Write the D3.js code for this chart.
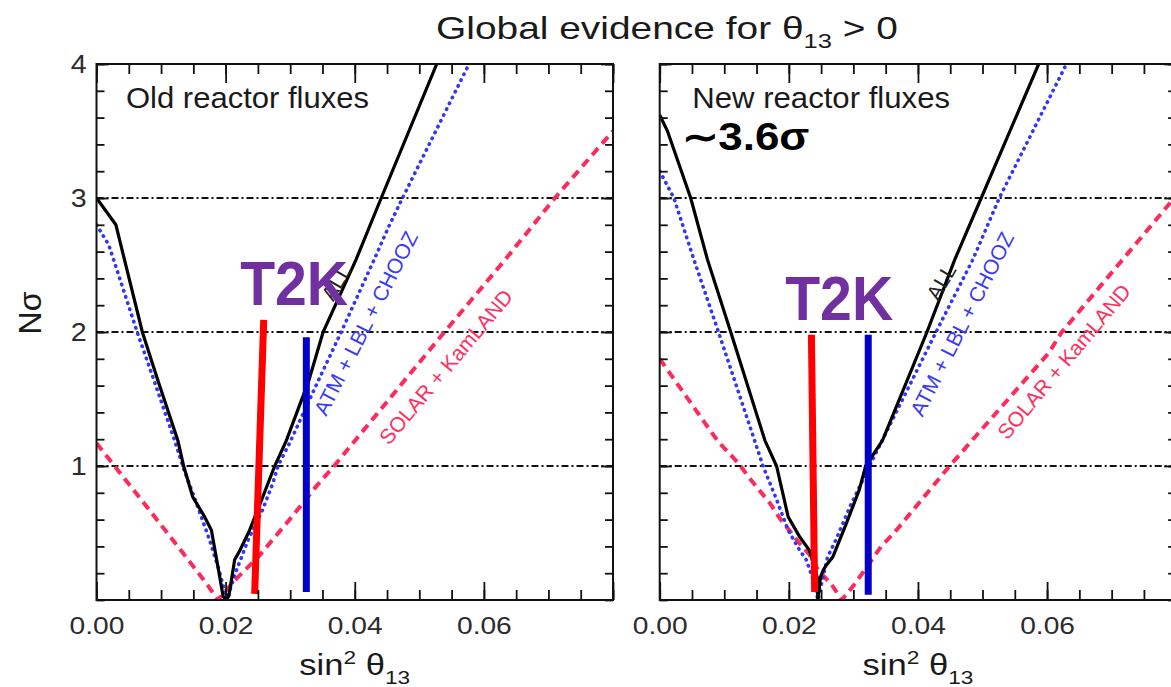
<!DOCTYPE html>
<html lang="en">
<head>
<meta charset="UTF-8">
<title>Global evidence for theta13 &gt; 0</title>
<script src="https://cdnjs.cloudflare.com/ajax/libs/d3/7.8.5/d3.min.js"></script>
<style>
  body { margin: 0; background: #fff; }
  svg { display: block; font-family: "Liberation Sans", Arial, sans-serif; }
</style>
</head>
<body>
<div id="chart"></div>
<script>
// values: x = sin^2 theta13, y = N sigma
var xTicks = [0, 0.02, 0.04, 0.06];
var yTicks = [1, 2, 3, 4];
var sigmaLines = [1, 2, 3];

// old reactor fluxes
var oldAllX = [0, 0.0030, 0.0071, 0.0095, 0.0126, 0.0135, 0.0149, 0.0167, 0.0178, 0.0188, 0.0196, 0.0200, 0.0205, 0.0214, 0.0222, 0.0237, 0.0252, 0.0276, 0.0294, 0.0329, 0.0351, 0.0402, 0.0441, 0.0527];
var oldAllY = [3.00, 2.80, 2.00, 1.64, 1.19, 1.00, 0.77, 0.625, 0.52, 0.25, 0.03, 0.00, 0.03, 0.30, 0.37, 0.52, 0.70, 1.00, 1.19, 1.64, 2.00, 2.54, 3.00, 4.00];
var oldAtmX = [0, 0.0019, 0.0042, 0.0063, 0.0089, 0.0121, 0.0135, 0.0155, 0.0175, 0.0190, 0.0202, 0.0215, 0.0235, 0.0257, 0.0273, 0.0281, 0.0299, 0.0340, 0.0379, 0.0430, 0.0453, 0.0474, 0.0577];
var oldAtmY = [2.80, 2.65, 2.31, 2.00, 1.64, 1.19, 0.98, 0.72, 0.45, 0.22, 0.00, 0.20, 0.45, 0.67, 0.87, 1.00, 1.17, 1.60, 2.00, 2.54, 2.79, 3.00, 4.00];
var oldSolX = [0, 0.0088, 0.0134, 0.0170, 0.0188, 0.0215, 0.0252, 0.0299, 0.0340, 0.0368, 0.0539, 0.0633, 0.0710, 0.0800];
var oldSolY = [1.17, 0.634, 0.35, 0.125, 0.00, 0.15, 0.33, 0.60, 0.846, 1.00, 2.00, 2.54, 3.00, 3.50];

// new reactor fluxes
var newAllX = [0, 0.0012, 0.0048, 0.0074, 0.0110, 0.0163, 0.0181, 0.0199, 0.0217, 0.0232, 0.0244, 0.0245, 0.0249, 0.0253, 0.0258, 0.0268, 0.0289, 0.0309, 0.0319, 0.0345, 0.0414, 0.0457, 0.0498, 0.0587];
var newAllY = [3.62, 3.50, 3.00, 2.54, 2.00, 1.19, 1.00, 0.62, 0.47, 0.37, 0.17, 0.00, 0.17, 0.22, 0.26, 0.32, 0.57, 0.82, 1.00, 1.19, 2.00, 2.54, 3.00, 4.00];
var newAtmX = [0, 0.0022, 0.0053, 0.0091, 0.0147, 0.0160, 0.0181, 0.0199, 0.0217, 0.0227, 0.0240, 0.0245, 0.0252, 0.0260, 0.0273, 0.0295, 0.0325, 0.0428, 0.0485, 0.0526, 0.0630];
var newAtmY = [3.20, 3.00, 2.54, 2.00, 1.19, 1.00, 0.75, 0.52, 0.37, 0.30, 0.12, 0.00, 0.15, 0.32, 0.45, 0.70, 1.00, 2.00, 2.54, 3.00, 4.00];
var newSolX = [0, 0.0076, 0.0091, 0.0122, 0.0139, 0.0171, 0.0186, 0.0217, 0.0232, 0.0247, 0.0265, 0.0282, 0.0299, 0.0314, 0.0343, 0.0363, 0.0449, 0.0602, 0.0623, 0.0797];
var newSolY = [1.80, 1.28, 1.18, 1.02, 0.91, 0.72, 0.61, 0.42, 0.34, 0.21, 0.125, 0.00, 0.10, 0.20, 0.40, 0.50, 1.00, 1.84, 2.00, 3.00];

// T2K bars drawn on top: [top point, bottom point]
var t2kOldRed = [[0.0259, 2.09], [0.0245, 0.045]];
var t2kOldBlue = [[0.0325, 1.96], [0.0325, 0.06]];
var t2kNewRed = [[0.0235, 1.98], [0.0240, 0.06]];
var t2kNewBlue = [[0.0323, 1.98], [0.0323, 0.04]];

var W = 1171, H = 687;
var panelW = 516.5, plotTop = 64, plotBottom = 600;

var svg = d3.select("#chart").append("svg")
    .attr("width", W)
    .attr("height", H);

// squeeze/stretch a horizontal text to the width it has in the picture
function fitText(sel, x0, y0, width) {
    var bb = sel.node().getBBox();
    sel.attr("transform", "translate(" + x0 + "," + y0 + ") scale(" + (width / bb.width) + ",1)");
    return sel;
}

var panels = [
    { id: "old", left: 96.5, title: "Old reactor fluxes", titleW: 243,
      all: [oldAllX, oldAllY], atm: [oldAtmX, oldAtmY], sol: [oldSolX, oldSolY],
      red: t2kOldRed, blue: t2kOldBlue, yLabels: true,
      allPos: [0.0371, 2.37], atmPos: [0.0417, 2.067], solPos: [0.0541, 1.74], t2kPos: [0.02225, 2.20] },
    { id: "new", left: 659.7, title: "New reactor fluxes", titleW: 258,
      all: [newAllX, newAllY], atm: [newAtmX, newAtmY], sol: [newSolX, newSolY],
      red: t2kNewRed, blue: t2kNewBlue, yLabels: false,
      allPos: [0.0436, 2.375], atmPos: [0.0468, 2.06], solPos: [0.0626, 1.78], t2kPos: [0.01944, 2.09] }
];

panels.forEach(function(p) {
    var x = d3.scaleLinear().domain([0, 0.08]).range([p.left, p.left + panelW]);
    var y = d3.scaleLinear().domain([0, 4]).range([plotBottom, plotTop]);
    var g = svg.append("g");

    g.append("clipPath").attr("id", "clip-" + p.id)
        .append("rect")
        .attr("x", p.left).attr("y", plotTop)
        .attr("width", panelW).attr("height", plotBottom - plotTop);

    // dash-dot sigma levels
    g.selectAll(".lvl").data(sigmaLines).enter().append("line")
        .attr("x1", p.left).attr("x2", p.left + panelW)
        .attr("y1", function(d) { return y(d); })
        .attr("y2", function(d) { return y(d); })
        .attr("stroke", "#111").attr("stroke-width", 1.8)
        .attr("stroke-dasharray", "7,3,2,3");

    var line = d3.line()
        .x(function(d) { return x(d[0]); })
        .y(function(d) { return y(d[1]); });

    var curves = g.append("g").attr("clip-path", "url(#clip-" + p.id + ")");
    curves.append("path")
        .attr("d", line(d3.zip(p.sol[0], p.sol[1])))
        .attr("fill", "none").attr("stroke", "#ff2a5c")
        .attr("stroke-width", 4).attr("stroke-dasharray", "9,6");
    curves.append("path")
        .attr("d", line(d3.zip(p.atm[0], p.atm[1])))
        .attr("fill", "none").attr("stroke", "#3535f5")
        .attr("stroke-width", 3.6).attr("stroke-linecap", "round")
        .attr("stroke-dasharray", "0.5,6");
    curves.append("path")
        .attr("d", line(d3.zip(p.all[0], p.all[1])))
        .attr("fill", "none").attr("stroke", "#000")
        .attr("stroke-width", 3.2);

    // rotated curve labels
    function rotLabel(txt, pos, angle, color) {
        g.append("text")
            .attr("transform", "translate(" + x(pos[0]) + "," + y(pos[1]) + ") rotate(" + angle + ")")
            .attr("text-anchor", "middle")
            .attr("dominant-baseline", "central")
            .style("font-size", "21px")
            .attr("fill", color)
            .text(txt);
    }
    rotLabel("ALL", p.allPos, -60, "#222");
    rotLabel("ATM + LBL + CHOOZ", p.atmPos, -63, "#3a3af5");
    rotLabel("SOLAR + KamLAND", p.solPos, -50, "#ff3060");

    // T2K bars
    [[p.red, "#ff0000"], [p.blue, "#0000c8"]].forEach(function(b) {
        g.append("line")
            .attr("x1", x(b[0][0][0])).attr("y1", y(b[0][0][1]))
            .attr("x2", x(b[0][1][0])).attr("y2", y(b[0][1][1]))
            .attr("stroke", b[1]).attr("stroke-width", 7);
    });

    var t2k = g.append("text")
        .style("font-size", "63px").style("font-weight", "bold")
        .attr("fill", "#7030a0")
        .text("T2K");
    fitText(t2k, x(p.t2kPos[0]), y(p.t2kPos[1]), 108);

    // axes, ticks point inwards
    var minorX = d3.range(0, 0.0801, 0.005);
    var majorX = [0, 0.02, 0.04, 0.06, 0.08];
    var minorY = d3.range(0, 4.01, 0.2);

    function addAxis(axis, tf) {
        return g.append("g").attr("transform", tf).call(axis)
            .call(function(s) { s.select(".domain").remove(); });
    }
    addAxis(d3.axisBottom(x).tickValues(minorX).tickSize(-10).tickFormat(""), "translate(0," + plotBottom + ")");
    addAxis(d3.axisTop(x).tickValues(minorX).tickSize(-10).tickFormat(""), "translate(0," + plotTop + ")");
    addAxis(d3.axisTop(x).tickValues(majorX).tickSize(-19).tickFormat(""), "translate(0," + plotTop + ")");
    var xb = addAxis(d3.axisBottom(x).tickValues(majorX).tickSize(-18).tickPadding(17)
        .tickFormat(function(d) { return xTicks.indexOf(d) >= 0 ? d3.format(".2f")(d) : ""; }),
        "translate(0," + plotBottom + ")");
    xb.selectAll("text").style("font-size", "24.5px").attr("fill", "#2b2b2b")
        .attr("transform", "scale(1.15,1)");

    addAxis(d3.axisLeft(y).tickValues(minorY).tickSize(-8).tickFormat(""), "translate(" + p.left + ",0)");
    addAxis(d3.axisRight(y).tickValues(minorY).tickSize(-8).tickFormat(""), "translate(" + (p.left + panelW) + ",0)");
    var yl = addAxis(d3.axisLeft(y).tickValues(yTicks).tickSize(-12).tickPadding(9)
        .tickFormat(function(d) { return p.yLabels ? d : ""; }), "translate(" + p.left + ",0)");
    yl.selectAll("text").style("font-size", "26px").attr("fill", "#2b2b2b")
        .attr("transform", "scale(1.1,1)");
    addAxis(d3.axisRight(y).tickValues(yTicks).tickSize(-12).tickFormat(""), "translate(" + (p.left + panelW) + ",0)");
    g.selectAll(".tick line").attr("stroke", "#111").attr("stroke-width", 1.8);

    g.append("rect")
        .attr("x", p.left).attr("y", plotTop)
        .attr("width", panelW).attr("height", plotBottom - plotTop)
        .attr("fill", "none").attr("stroke", "#111").attr("stroke-width", 2);

    var pt = g.append("text").style("font-size", "29px").attr("fill", "#1a1a1a").text(p.title);
    fitText(pt, p.left + 29.5 + (p.id == "new" ? 3 : 0), 108, p.titleW);

    // x axis title
    var xt = g.append("text").style("font-size", "29px").attr("fill", "#1a1a1a");
    xt.append("tspan").text("sin");
    xt.append("tspan").attr("dy", -11).style("font-size", "19px").text("2");
    xt.append("tspan").attr("dy", 11).text(" \u03b8");
    xt.append("tspan").attr("dy", 9).style("font-size", "19px").text("13");
    fitText(xt, x(0.04) - 55.5, 675, 111);
});

// texts outside the panels
var title = svg.append("text").style("font-size", "32px").attr("fill", "#1a1a1a");
title.append("tspan").text("Global evidence for \u03b8");
title.append("tspan").attr("dy", 9).style("font-size", "21px").text("13");
title.append("tspan").attr("dy", -9).text(" > 0");
fitText(title, 436, 39, 462);

svg.append("text")
    .attr("transform", "translate(30,313) rotate(-90)")
    .attr("text-anchor", "middle")
    .attr("dominant-baseline", "central")
    .style("font-size", "32px").attr("fill", "#1a1a1a")
    .text("N\u03c3");

var sig = svg.append("text")
    .style("font-size", "38px").style("font-weight", "bold").attr("fill", "#000")
    .text("\u223c3.6\u03c3");
fitText(sig, 682, 150, 128);
</script>
</body>
</html>
